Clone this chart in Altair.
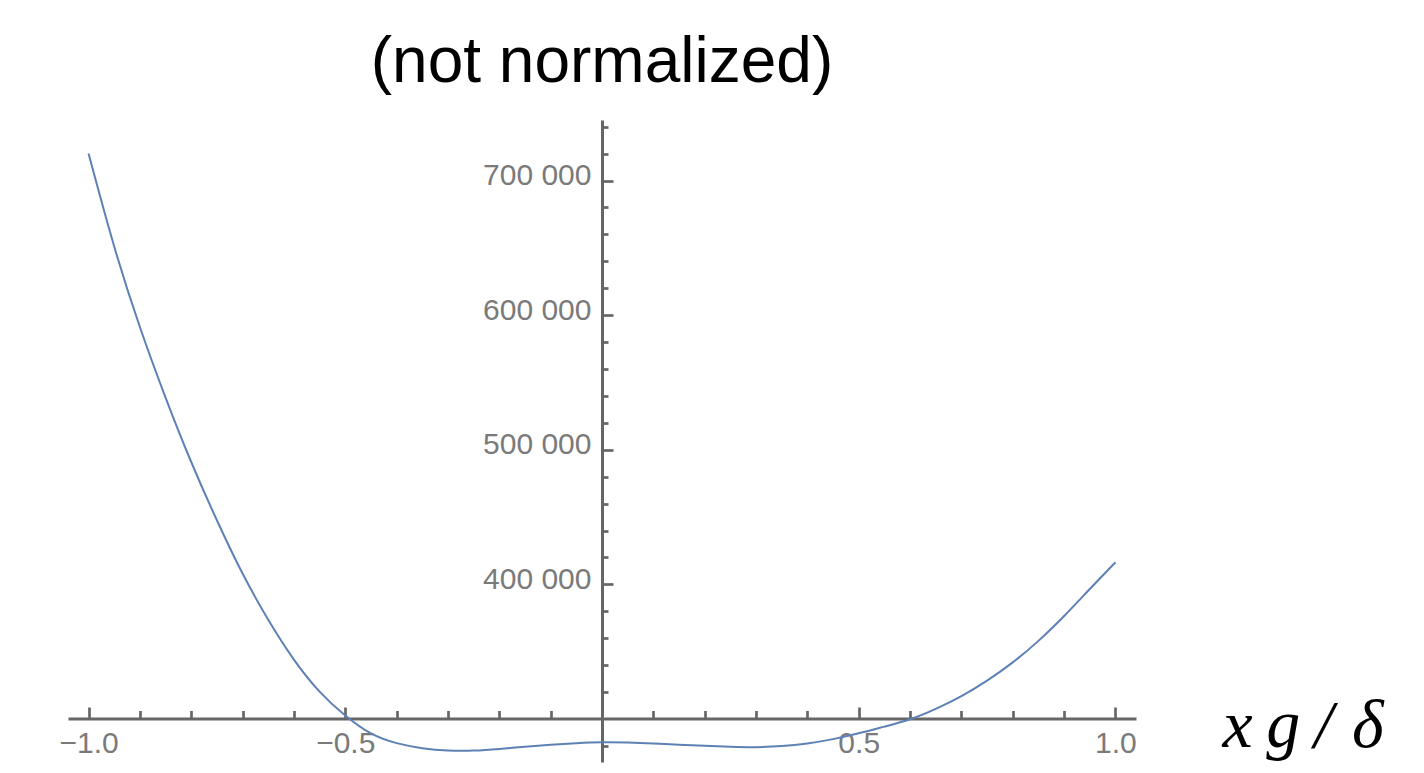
import altair as alt
import pandas as pd

# curve samples
xs = [-1.0, -0.95, -0.9, -0.85, -0.8, -0.75, -0.7, -0.65, -0.6, -0.55, -0.5,
      -0.45, -0.4, -0.35, -0.3, -0.25, -0.2, -0.15, -0.1, -0.05, 0.0,
      0.05, 0.1, 0.15, 0.2, 0.25, 0.3, 0.35, 0.4, 0.45, 0.5,
      0.55, 0.6, 0.65, 0.7, 0.75, 0.8, 0.85, 0.9, 0.95, 1.0]
ys = [720100, 651000, 591200, 538800, 490900, 447600, 408000, 373700, 344100, 320300, 302500,
      289200, 282000, 278300, 276600, 276500, 277700, 279400, 280900, 282000, 282600,
      282400, 281700, 280800, 280000, 279300, 279000, 279800, 281800, 285000, 289300,
      294300, 299800, 307500, 317000, 328500, 342000, 358000, 376500, 396500, 416400]

# axis ticks
x_major = [-1.0, -0.5, 0.5, 1.0]
x_minor = [-0.9, -0.8, -0.7, -0.6, -0.4, -0.3, -0.2, -0.1,
           0.1, 0.2, 0.3, 0.4, 0.6, 0.7, 0.8, 0.9]
y_major = [400000, 500000, 600000, 700000]
y_minor = [280000, 320000, 340000, 360000, 380000, 420000, 440000, 460000, 480000,
           520000, 540000, 560000, 580000, 620000, 640000, 660000, 680000,
           720000, 740000]

df = pd.DataFrame({"x": xs, "y": ys})

W, H = 1068, 642
AX = "#666666"
xsc = alt.Scale(domain=[-1.04, 1.04], nice=False, zero=False)
ysc = alt.Scale(domain=[268000, 745000], nice=False, zero=False)

X_OFF_TOP = -598.5   # x axis line at y = 300000
Y_OFF = -534         # y axis line at x = 0
X_OFF_BOT = -(H - 598.5)

base = alt.Chart(df)

line = base.mark_line(color="#5E81B5", strokeWidth=2, interpolate="natural").encode(
    x=alt.X("x:Q", scale=xsc, axis=alt.Axis(
        orient="top", offset=X_OFF_TOP, values=x_major, labels=False, title=None,
        grid=False, domain=True, domainColor=AX, domainWidth=3,
        ticks=True, tickSize=11.5, tickWidth=2.7, tickColor=AX)),
    y=alt.Y("y:Q", scale=ysc, axis=alt.Axis(
        orient="right", offset=Y_OFF, values=y_major, labels=False, title=None,
        grid=False, domain=True, domainColor=AX, domainWidth=3,
        ticks=True, tickSize=11, tickWidth=2.7, tickColor=AX)),
)

minor = base.mark_line(strokeOpacity=0).encode(
    x=alt.X("x:Q", scale=xsc, axis=alt.Axis(
        orient="top", offset=X_OFF_TOP, values=x_minor, labels=False, title=None,
        grid=False, domain=False, ticks=True, tickSize=8, tickWidth=2.7, tickColor=AX)),
    y=alt.Y("y:Q", scale=ysc, axis=alt.Axis(
        orient="right", offset=Y_OFF, values=y_minor, labels=False, title=None,
        grid=False, domain=False, ticks=True, tickSize=6, tickWidth=2.7, tickColor=AX)),
)

labels = base.mark_line(strokeOpacity=0).encode(
    x=alt.X("x:Q", scale=xsc, axis=alt.Axis(
        orient="bottom", offset=X_OFF_BOT, values=x_major, format=".1f",
        grid=False, domain=False, ticks=False, tickSize=0, labelPadding=10,
        labelFont="Liberation Sans", labelFontSize=30, labelColor="#7a7a7a",
        title="x\u2009g\u2009/\u2009\u200aδ", titleFont="Liberation Serif", titleFontStyle="italic",
        titleFontWeight="normal", titleFontSize=68, titleColor="black",
        titleAlign="left", titleBaseline="alphabetic", titleX=1154, titleY=28)),
    y=alt.Y("y:Q", scale=ysc, axis=alt.Axis(
        orient="left", offset=Y_OFF, values=y_major,
        labelExpr="replace(format(datum.value, ','), ',', ' ')",
        grid=False, domain=False, ticks=False, tickSize=0, labelPadding=11,
        labelOffset=-5,
        labelFont="Liberation Sans", labelFontSize=30, labelColor="#7a7a7a",
        title=None)),
)

chart = alt.layer(line, minor, labels).resolve_axis(x="independent", y="independent").properties(
    width=W, height=H,
    autosize=alt.AutoSizeParams(type="none"),
    padding={"left": 60, "top": 112, "right": 280, "bottom": 3},
    title=alt.TitleParams("(not normalized)", font="Liberation Sans", fontSize=64,
                          fontWeight="normal", color="black", anchor="middle",
                          frame="group", baseline="alphabetic", offset=37, dy=63),
).configure_view(stroke=None)

chart.save("out.html", embed_options={"renderer": "svg", "actions": False})
